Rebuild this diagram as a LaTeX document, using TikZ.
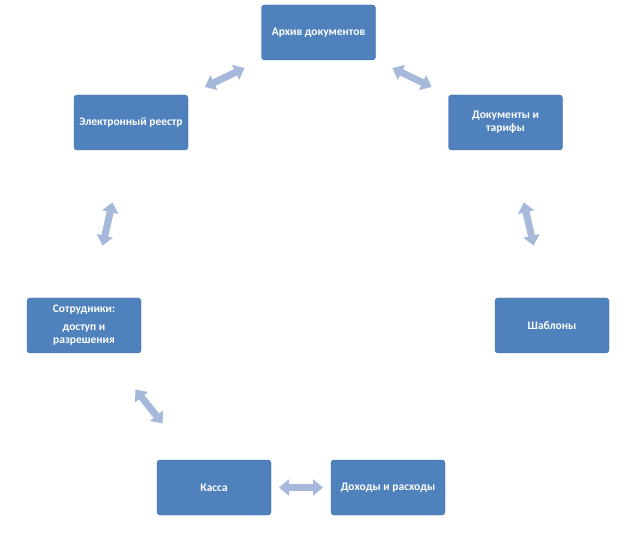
\documentclass[tikz,border=0pt]{standalone}
\usepackage{fontspec}
\setmainfont{Carlito}
\usetikzlibrary{arrows.meta}
\definecolor{boxblue}{HTML}{4F81BD}
\definecolor{arrblue}{HTML}{A6B9DA}

\begin{document}
\begin{tikzpicture}[x=1pt,y=-1pt]
\tikzstyle{b} = [fill=boxblue,draw=boxblue!85!black,line width=0.4pt,rounded corners=3pt,minimum width=114pt,minimum height=55pt,text=white,align=center,font=\bfseries\fontsize{11.5}{13}\selectfont]
\tikzstyle{a} = [arrblue,line width=7pt,arrows={Triangle[length=10pt,width=16pt]-Triangle[length=10pt,width=16pt]},shorten <=#1,shorten >=#1]
\useasboundingbox (0,0) rectangle (640,534);
\node[b] (arch) at (318.5,32.5) {Архив документов};
\node[b] (docs) at (505.5,122.5) {Документы и\\тарифы};
\node[b] (templ) at (552,325.5) {Шаблоны};
\node[b] (income) at (388,487.5) {Доходы и расходы};
\node[b] (cash) at (214,487.5) {Касса};
\node[b] (staff) at (84,325.5) {Сотрудники:\\[5pt]доступ и\\разрешения};
\node[b] (reg) at (131,122.5) {Электронный реестр};
\draw[a=82pt] (arch.center) -- (reg.center);
\draw[a=82pt] (arch.center) -- (docs.center);
\draw[a=82pt] (docs.center) -- (templ.center);
\draw[a=65pt] (income.center) -- (cash.center);
\draw[a=82pt] (cash.center) -- (staff.center);
\draw[a=82pt] (staff.center) -- (reg.center);
\end{tikzpicture}
\end{document}
